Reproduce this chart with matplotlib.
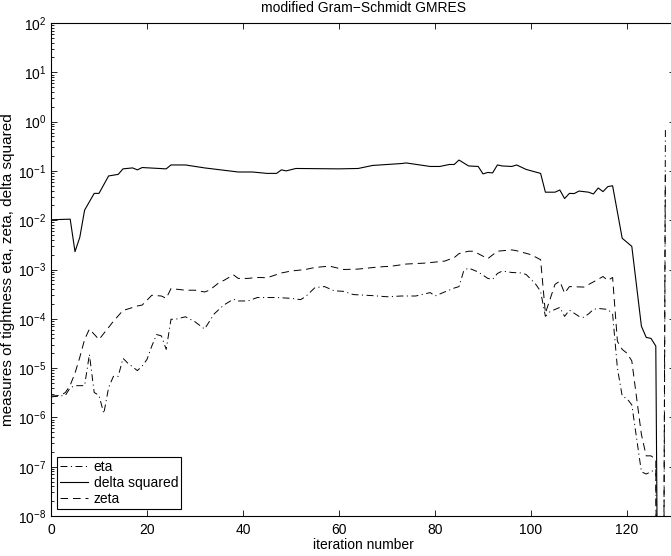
import matplotlib
matplotlib.use('Agg')
import matplotlib.pyplot as plt
from matplotlib.ticker import LogLocator, NullFormatter, MultipleLocator

plt.rcParams['font.family'] = ['Liberation Sans', 'DejaVu Sans']
plt.rcParams['mathtext.default'] = 'regular'
plt.rcParams['lines.scale_dashes'] = False

# iteration numbers and values
it_delta = [0, 4, 5, 6, 7, 9, 10, 12, 14, 15, 17, 18, 19, 24, 25, 28, 32, 39, 42, 45,
            47, 48, 49, 51, 60, 64, 67, 73, 74, 79, 81, 83, 84, 85, 87, 89, 90, 91, 92,
            93, 94, 96, 97, 99, 102, 103, 105, 106, 107, 108, 109, 110, 112, 113, 114,
            115, 116, 117, 119, 121, 123, 124, 125, 126, 127]
delta_sq = [1.02e-2, 1.05e-2, 2.3e-3, 4.5e-3, 1.6e-2, 3.5e-2, 3.5e-2, 7.9e-2, 8.5e-2, 0.11,
            0.115, 0.105, 0.117, 0.11, 0.132, 0.132, 0.115, 0.095, 0.095, 0.089,
            0.089, 0.105, 0.10, 0.112, 0.11, 0.112, 0.129, 0.141, 0.145, 0.123,
            0.123, 0.135, 0.135, 0.166, 0.126, 0.123, 0.087, 0.093, 0.091,
            0.132, 0.126, 0.123, 0.132, 0.107, 0.089, 0.037, 0.037, 0.041, 0.0275,
            0.035, 0.0347, 0.039, 0.037, 0.034, 0.045, 0.038, 0.048, 0.050, 4.3e-3,
            2.95e-3, 7.1e-5, 4.2e-5, 4.0e-5, 2.8e-5, 4e-19]

it_zeta = [0, 2, 3, 4, 5, 6, 7, 8, 10, 13, 15, 16, 18, 19, 21, 23, 24, 25, 26, 28, 30,
           32, 33, 35, 36, 38, 39, 41, 43, 45, 48, 50, 53, 55, 58, 61, 64, 68, 71, 74,
           78, 82, 84, 85, 87, 88, 91, 93, 96, 97, 100, 102, 103, 105, 106, 107, 108,
           111, 113, 115, 116, 117, 118, 119, 120, 121, 122, 123, 124, 125, 126, 127, 128]
zeta = [2.7e-6, 2.8e-6, 3.2e-6, 4.5e-6, 7.9e-6, 1.66e-5, 3.8e-5, 6.2e-5, 3.8e-5, 8.9e-5,
        1.48e-4, 1.58e-4, 1.82e-4, 1.9e-4, 3.0e-4, 2.9e-4, 2.6e-4, 4.1e-4, 4.0e-4, 3.8e-4,
        3.8e-4, 3.5e-4, 3.8e-4, 5.4e-4, 6.0e-4, 7.8e-4, 6.6e-4, 6.6e-4, 6.9e-4, 6.8e-4,
        8.5e-4, 9.3e-4, 1.0e-3, 1.1e-3, 1.17e-3, 1.0e-3, 1.02e-3, 1.12e-3, 1.17e-3, 1.29e-3,
        1.35e-3, 1.48e-3, 1.74e-3, 2.1e-3, 2.35e-3, 2.35e-3, 1.66e-3, 2.35e-3, 2.5e-3,
        2.4e-3, 2.0e-3, 1.58e-3, 1.3e-4, 5.0e-4, 5.8e-4, 3.3e-4, 4.5e-4, 4.4e-4, 5.6e-4,
        7.2e-4, 6.0e-4, 6.9e-4, 3.5e-5, 2.4e-5, 2.0e-5, 1.4e-5, 2.5e-6, 4.5e-7, 1.66e-7,
        1.66e-7, 1.4e-7, 1e-26, 1e-1]

it_eta = [0, 3, 4, 5, 7, 8, 9, 10, 11, 12, 13, 14, 15, 16, 18, 19, 20, 21, 22, 23, 24,
          25, 26, 28, 30, 32, 34, 36, 38, 39, 41, 43, 47, 50, 52, 53, 55, 57, 59, 61, 63,
          67, 70, 73, 76, 79, 80, 82, 84, 85, 86, 87, 89, 91, 92, 93, 94, 96, 98, 99, 100,
          101, 102, 103, 104, 106, 107, 108, 110, 111, 112, 113, 114, 116, 117, 118, 119,
          120, 121, 123, 124, 125, 126, 127, 128]
eta = [2.6e-6, 2.8e-6, 4.0e-6, 4.4e-6, 4.4e-6, 1.9e-5, 3.2e-6, 2.8e-6, 1.2e-6, 4.0e-6,
       6.8e-6, 6.8e-6, 1.58e-5, 1.26e-5, 8.9e-6, 1.1e-5, 1.5e-5, 2.8e-5, 4.8e-5, 4.5e-5,
       2.4e-5, 9.8e-5, 9.8e-5, 1.1e-4, 8.7e-5, 6.2e-5, 1.26e-4, 1.9e-4, 2.5e-4, 2.3e-4,
       2.3e-4, 2.7e-4, 2.7e-4, 2.6e-4, 2.45e-4, 2.8e-4, 4.3e-4, 4.5e-4, 3.7e-4, 3.6e-4,
       3.1e-4, 2.95e-4, 2.8e-4, 2.9e-4, 2.9e-4, 3.4e-4, 2.9e-4, 3.5e-4, 4.2e-4, 4.5e-4,
       9.5e-4, 1.07e-3, 8.9e-4, 6.6e-4, 6.3e-4, 8.3e-4, 9.3e-4, 8.7e-4, 8.5e-4, 7.9e-4,
       6.3e-4, 5.0e-4, 3.6e-4, 1.12e-4, 1.41e-4, 1.7e-4, 1.12e-4, 1.5e-4, 1.12e-4, 1.07e-4,
       1.26e-4, 1.55e-4, 1.62e-4, 1.55e-4, 1.26e-4, 1.0e-5, 2.7e-6, 2.4e-6, 1.8e-6, 7.9e-8,
       7.1e-8, 7.9e-8, 8.9e-8, 4e-27, 0.75]

fig = plt.figure(figsize=(6.71, 5.56), dpi=100)
ax = fig.add_axes([51 / 671, 1 - 516 / 556, 624 / 671, 493 / 556])

ax.plot(it_eta, eta, color='k', lw=0.7, dashes=(5, 2.5, 0.8, 2.5), label='eta')
ax.plot(it_delta, delta_sq, color='k', lw=0.8, label='delta squared')
ax.plot(it_zeta, zeta, color='k', lw=0.7, dashes=(5.5, 3.5), label='zeta')

ax.set_yscale('log')
ax.set_xlim(0, 130)
ax.set_ylim(1e-8, 1e2)
ax.xaxis.set_major_locator(MultipleLocator(20))
ax.yaxis.set_major_locator(LogLocator(base=10, numticks=20))
ax.yaxis.set_minor_locator(LogLocator(base=10, subs=range(2, 10), numticks=20))
ax.yaxis.set_minor_formatter(NullFormatter())
ax.tick_params(which='both', direction='in', top=True, right=True, labelsize=10,
               width=0.6)
ax.tick_params(which='major', length=4.5)
ax.tick_params(axis='x', pad=5)
ax.tick_params(which='minor', length=2.5)
for s in ax.spines.values():
    s.set_linewidth(0.8)

ax.set_title('modified Gram\u2212Schmidt GMRES', fontsize=10, pad=8)
ax.set_xlabel('iteration number', fontsize=10, labelpad=1)
ax.set_ylabel('measures of tightness eta, zeta, delta squared', fontsize=11,
              labelpad=2)

leg = ax.legend(loc='lower left', bbox_to_anchor=(0.0096, 0.0142), borderaxespad=0,
                fontsize=10, fancybox=False, framealpha=1, edgecolor='k',
                handlelength=2.0, handletextpad=0.45, labelspacing=0.15,
                borderpad=0.2)
leg.get_frame().set_linewidth(0.8)

fig.savefig('out.png', dpi=100)
